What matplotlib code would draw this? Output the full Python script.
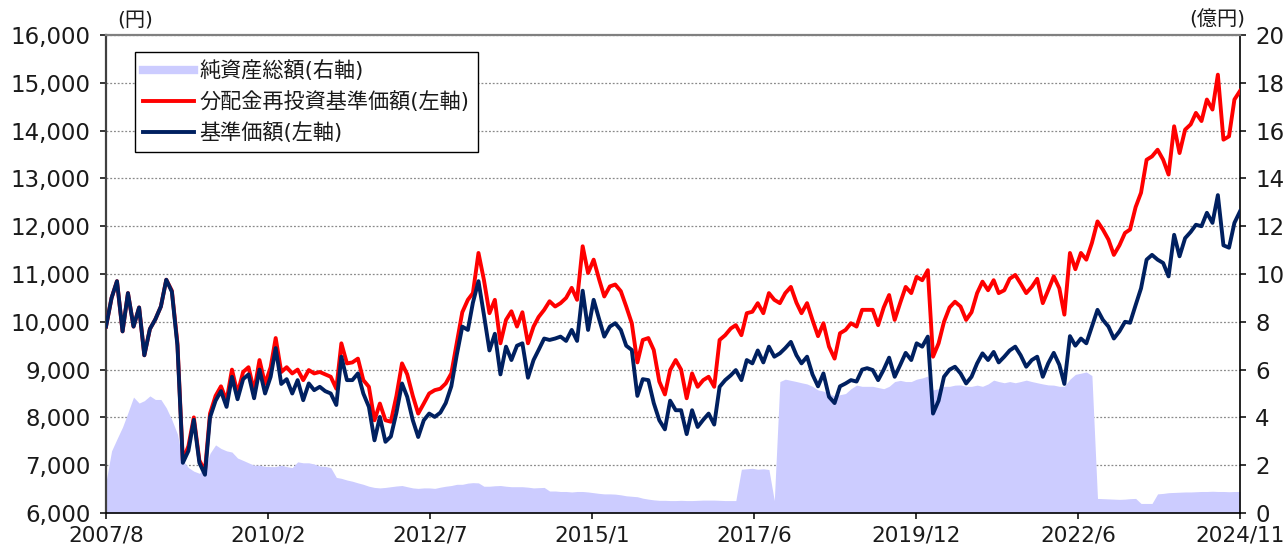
import numpy as np
import pandas as pd
import matplotlib
matplotlib.use('Agg')
import matplotlib.pyplot as plt
import matplotlib.dates as mdates
from matplotlib.lines import Line2D
from matplotlib.ticker import FuncFormatter

plt.rcParams['font.family'] = ['DejaVu Sans', 'Noto Sans CJK JP']

# ---------------- data (monthly, 2007/8 - 2024/11) ----------------
dates = pd.date_range('2007-08-01', '2024-11-01', freq='MS')

kijun = [  # 基準価額 (円)
    9900, 10500, 10850, 9800, 10600, 9900, 10300, 9300, 9850, 10050, 10320, 10880,
    10630, 9500, 7050, 7300, 7950, 7050, 6800, 8000, 8350, 8550, 8220, 8850,
    8380, 8800, 8900, 8400, 9000, 8500, 8850, 9450, 8700, 8800, 8500, 8780,
    8360, 8710, 8570, 8640, 8550, 8500, 8260, 9270, 8780, 8780, 8920, 8500,
    8220, 7520, 8010, 7490, 7600, 8100, 8710, 8430, 7940, 7590, 7940, 8080,
    8010, 8100, 8300, 8650, 9300, 9900, 9830, 10400, 10850, 10150, 9400, 9750,
    8900, 9480, 9200, 9500, 9550, 8830, 9200, 9410, 9650, 9620, 9650, 9690,
    9600, 9830, 9600, 10650, 9830, 10460, 10050, 9690, 9900, 9970, 9830, 9500,
    9410, 8450, 8800, 8780, 8300, 7940, 7750, 8350, 8150, 8150, 7650, 8150,
    7800, 7950, 8080, 7850, 8640, 8780, 8880, 8990, 8780, 9200, 9130, 9400,
    9150, 9480, 9270, 9340, 9450, 9580, 9300, 9130, 9270, 8900, 8650, 8920,
    8430, 8300, 8650, 8710, 8780, 8750, 9000, 9030, 8990, 8780, 9000, 9250,
    8850, 9100, 9350, 9200, 9550, 9480, 9690, 8080, 8350, 8850, 9000, 9060,
    8920, 8710, 8850, 9130, 9340, 9200, 9370, 9150, 9270, 9400, 9480, 9300,
    9060, 9200, 9270, 8850, 9130, 9350, 9100, 8700, 9700, 9500, 9650, 9550,
    9900, 10250, 10040, 9900, 9650, 9800, 10000, 9980, 10350, 10700, 11300, 11400,
    11300, 11230, 10950, 11820, 11370, 11750, 11880, 12030, 12000, 12280, 12070, 12650,
    11600, 11550, 12070, 12310,
]

reinvest = [  # 分配金再投資基準価額 (円)
    9900, 10500, 10850, 9800, 10600, 9900, 10300, 9300, 9850, 10050, 10320, 10880,
    10650, 9550, 7100, 7400, 8000, 7100, 6880, 8080, 8450, 8650, 8350, 9000,
    8500, 8950, 9050, 8550, 9200, 8700, 9050, 9660, 8950, 9050, 8920, 9000,
    8780, 8990, 8920, 8950, 8900, 8850, 8600, 9550, 9130, 9150, 9230, 8780,
    8640, 7940, 8290, 7940, 7910, 8450, 9130, 8900, 8450, 8080, 8290, 8500,
    8570, 8600, 8710, 8920, 9550, 10200, 10460, 10600, 11440, 10880, 10180, 10460,
    9550, 10040, 10220, 9900, 10200, 9550, 9900, 10100, 10250, 10430, 10320, 10390,
    10500, 10710, 10460, 11580, 11020, 11300, 10880, 10530, 10740, 10780, 10640, 10320,
    9970, 9150, 9620, 9660, 9410, 8750, 8480, 8990, 9200, 9000, 8400, 8920,
    8640, 8780, 8850, 8640, 9620, 9720, 9860, 9930, 9720, 10180, 10210, 10390,
    10180, 10600, 10460, 10390, 10600, 10730, 10400, 10180, 10390, 10040, 9700, 9970,
    9480, 9230, 9760, 9830, 9970, 9900, 10250, 10250, 10250, 9930, 10300, 10560,
    10040, 10400, 10730, 10600, 10940, 10870, 11080, 9270, 9550, 10000, 10300, 10420,
    10320, 10040, 10200, 10600, 10840, 10660, 10870, 10600, 10660, 10900, 10980, 10800,
    10600, 10730, 10900, 10390, 10660, 10950, 10700, 10150, 11440, 11100, 11440, 11300,
    11650, 12100, 11930, 11720, 11400, 11600, 11860, 11930, 12400, 12700, 13390, 13460,
    13600, 13390, 13080, 14090, 13530, 14020, 14130, 14370, 14200, 14650, 14440, 15170,
    13810, 13880, 14650, 14830,
]

net_assets = [  # 純資産総額 (億円)
    1.3, 2.6, 3.1, 3.6, 4.2, 4.85, 4.6, 4.7, 4.9, 4.75, 4.75, 4.4,
    3.9, 3.3, 2.2, 1.9, 1.75, 1.66, 1.9, 2.5, 2.85, 2.7, 2.6, 2.55,
    2.3, 2.2, 2.1, 2.0, 2.0, 1.95, 1.94, 1.94, 2.0, 1.94, 1.9, 2.14,
    2.1, 2.1, 2.05, 1.96, 1.95, 1.9, 1.49, 1.45, 1.38, 1.33, 1.26, 1.2,
    1.12, 1.07, 1.05, 1.07, 1.1, 1.13, 1.15, 1.1, 1.05, 1.03, 1.05, 1.05,
    1.03, 1.08, 1.12, 1.15, 1.2, 1.2, 1.25, 1.27, 1.26, 1.12, 1.12, 1.14,
    1.15, 1.12, 1.1, 1.1, 1.1, 1.08, 1.05, 1.06, 1.07, 0.92, 0.92, 0.9,
    0.9, 0.88, 0.9, 0.9, 0.88, 0.85, 0.82, 0.8, 0.8, 0.79, 0.76, 0.72,
    0.7, 0.68, 0.62, 0.58, 0.55, 0.53, 0.53, 0.52, 0.52, 0.53, 0.52, 0.52,
    0.53, 0.54, 0.54, 0.54, 0.53, 0.52, 0.52, 0.52, 1.83, 1.85, 1.87, 1.83,
    1.85, 1.82, 0.52, 5.5, 5.6, 5.55, 5.5, 5.45, 5.4, 5.3, 5.15, 5.1,
    5.0, 4.9, 4.95, 5.0, 5.2, 5.35, 5.3, 5.3, 5.3, 5.25, 5.2, 5.3,
    5.5, 5.55, 5.5, 5.5, 5.6, 5.65, 5.73, 5.15, 5.2, 5.3, 5.3, 5.35,
    5.36, 5.3, 5.3, 5.35, 5.3, 5.4, 5.56, 5.5, 5.45, 5.5, 5.45, 5.5,
    5.56, 5.5, 5.45, 5.4, 5.36, 5.35, 5.3, 5.3, 5.6, 5.8, 5.85, 5.9,
    5.75, 0.61, 0.6, 0.59, 0.58, 0.57, 0.58, 0.6, 0.61, 0.4, 0.4, 0.4,
    0.8, 0.82, 0.85, 0.86, 0.87, 0.88, 0.88, 0.89, 0.9, 0.9, 0.91, 0.9,
    0.9, 0.89, 0.9, 0.9,
]

x_tick_labels = ['2007/8', '2010/2', '2012/7', '2015/1', '2017/6', '2019/12', '2022/6', '2024/11']
left_ticks = list(range(6000, 16001, 1000))
right_ticks = list(range(0, 21, 2))
legend_labels = ['純資産総額(右軸)', '分配金再投資基準価額(左軸)', '基準価額(左軸)']

# ---------------- styling ----------------
C_AREA = '#CCCCFF'
C_RED = '#FF0000'
C_BLUE = '#002060'
TXT = '#1a1a1a'
FS = 16.5

W, H = 1287, 545
fig = plt.figure(figsize=(W / 100, H / 100), dpi=100)
ax = fig.add_axes([106 / W, 1 - 513 / H, (1240 - 106) / W, (513 - 35) / H])
ax2 = ax.twinx()
ax.set_zorder(2)
ax2.set_zorder(1)
ax.patch.set_visible(False)

# area (right axis)
ax2.fill_between(dates, 0, net_assets, color=C_AREA, lw=0, zorder=1)
ax2.set_ylim(0, 20)
ax2.set_yticks(right_ticks)
ax2.yaxis.grid(True, linestyle=(0, (1.5, 1.5)), color='#8a8a8a', lw=0.9)
ax2.set_axisbelow(True)

# lines (left axis)
ax.plot(dates, reinvest, color=C_RED, lw=2.8, solid_joinstyle='round', zorder=3)
ax.plot(dates, kijun, color=C_BLUE, lw=2.8, solid_joinstyle='round', zorder=4)
ax.set_ylim(6000, 16000)
ax.set_yticks(left_ticks)
ax.yaxis.set_major_formatter(FuncFormatter(lambda v, p: f'{int(v):,}'))

xmin, xmax = mdates.date2num(dates[0]), mdates.date2num(dates[-1])
ax.set_xlim(xmin, xmax)
ax.set_xticks(np.linspace(xmin, xmax, len(x_tick_labels)))
ax.set_xticklabels(x_tick_labels)

for a in (ax, ax2):
    a.tick_params(axis='both', direction='out', length=4.5, width=1.1,
                  colors='#000000', labelcolor=TXT, labelsize=FS, pad=6.5)
ax.tick_params(axis='x', pad=4.5, labelsize=15.5)

for s in ax2.spines.values():
    s.set_visible(False)
ax.spines['left'].set_color('#404040')
ax.spines['left'].set_linewidth(1.6)
ax.spines['top'].set_color('#808080')
ax.spines['top'].set_linewidth(1.6)
ax.spines['bottom'].set_color('#000000')
ax.spines['bottom'].set_linewidth(1.2)
ax.spines['right'].set_color('#000000')
ax.spines['right'].set_linewidth(1.2)

handles = [Line2D([], [], color=C_AREA, lw=6),
           Line2D([], [], color=C_RED, lw=2.8),
           Line2D([], [], color=C_BLUE, lw=2.8)]
leg = ax.legend(handles, legend_labels, loc='upper left',
                bbox_to_anchor=((135 - 106) / 1134, (513 - 52) / 478),
                borderaxespad=0, frameon=True, fancybox=False, framealpha=1,
                edgecolor='#000000', fontsize=15.2, handlelength=2.4,
                handletextpad=0.25, borderpad=0.4, labelspacing=0.48)
leg.get_frame().set_linewidth(1.0)
for t in leg.get_texts():
    t.set_color(TXT)

fig.text(135 / W, 1 - 20 / H, '(円)', ha='center', va='center', fontsize=14.5, color=TXT)
fig.text(1217 / W, 1 - 20 / H, '(億円)', ha='center', va='center', fontsize=14.5, color=TXT)

fig.savefig('out.png', dpi=100, facecolor='white')
